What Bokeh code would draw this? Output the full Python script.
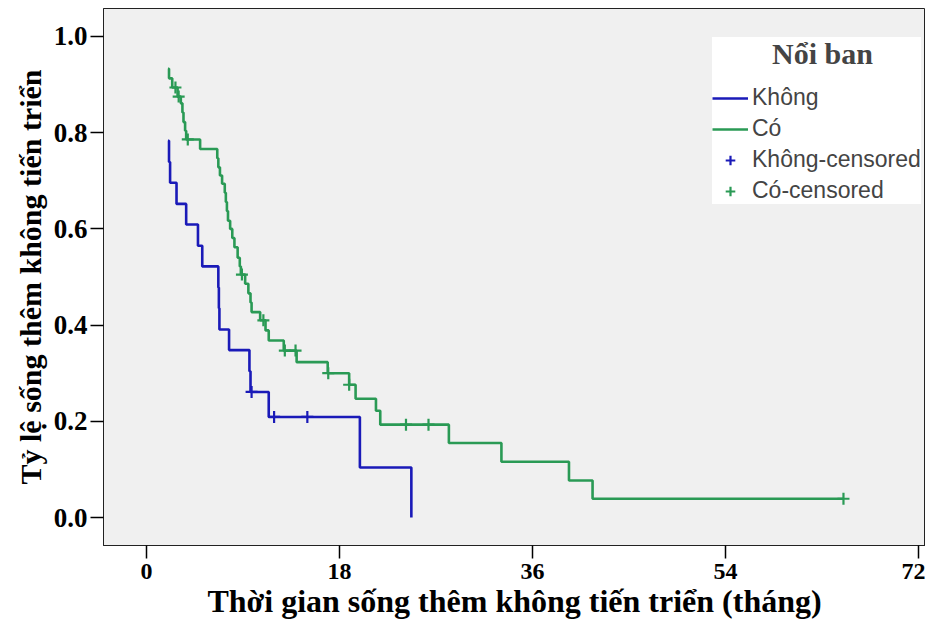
from bokeh.plotting import figure
from bokeh.models import Legend, LegendItem, FixedTicker, Range1d, NumeralTickFormatter
from bokeh.embed import file_html
from bokeh.resources import INLINE

# ---- Data ----
# Group "Không" (blue): Kaplan-Meier step points (time in months, survival)
khong_time = [2.0, 2.1, 2.2, 2.8, 3.7, 4.8, 5.2, 6.7, 6.75, 6.8, 7.7, 9.6, 9.7, 11.4, 19.9, 24.7]
khong_surv = [0.783, 0.739, 0.696, 0.652, 0.609, 0.565, 0.522, 0.478, 0.435, 0.391, 0.348,
              0.304, 0.261, 0.209, 0.104, 0.0]
khong_cens_time = [9.8, 11.9, 15.0]
khong_cens_surv = [0.261, 0.209, 0.209]

# Group "Có" (green)
co_time = [2.0, 2.1, 2.4, 2.9, 3.2, 3.35, 3.45, 3.6, 3.7, 5.0, 6.6, 6.7, 6.85, 7.05, 7.3, 7.4,
           7.5, 7.6, 7.8, 8.0, 8.2, 8.5, 8.7, 8.8, 9.2, 9.5, 9.7, 9.8, 10.6, 11.1, 11.4, 12.8,
           14.0, 16.9, 18.9, 19.5, 21.4, 21.8, 28.2, 33.1, 39.4, 41.6, 65.0]
co_surv = [0.933, 0.913, 0.894, 0.875, 0.861, 0.842, 0.822, 0.804, 0.786, 0.766, 0.747, 0.728,
           0.711, 0.694, 0.675, 0.656, 0.637, 0.617, 0.600, 0.581, 0.562, 0.540, 0.522, 0.505,
           0.486, 0.466, 0.447, 0.427, 0.410, 0.389, 0.368, 0.347, 0.323, 0.300, 0.276, 0.247,
           0.222, 0.193, 0.155, 0.116, 0.077, 0.039, 0.039]
co_cens_time = [2.7, 3.0, 3.85, 8.9, 10.9, 12.9, 13.9, 16.95, 18.9, 24.2, 26.3, 65.0]
co_cens_surv = [0.894, 0.875, 0.786, 0.505, 0.410, 0.347, 0.347, 0.300, 0.276, 0.193, 0.193, 0.039]

x_ticks = [0, 18, 36, 54, 72]
y_ticks = [0.0, 0.2, 0.4, 0.6, 0.8, 1.0]

legend_title = "Nổi ban"
labels = ["Không", "Có", "Không-censored", "Có-censored"]
x_title = "Thời gian sống thêm không tiến triển (tháng)"
y_title = "Tỷ lệ sống thêm không tiến triển"

BLUE = "#1a1ab8"
GREEN = "#2a9a55"
SERIF = "Liberation Serif"
SANS = "Liberation Sans"

p = figure(width=925, height=621, output_backend="svg", toolbar_location=None,
           x_range=Range1d(-4.01, 72.65), y_range=Range1d(-0.0582, 1.0582),
           min_border_left=103, min_border_right=0, min_border_top=8, min_border_bottom=76)

p.background_fill_color = "#f0f0f0"
p.border_fill_color = "white"
p.outline_line_color = "#222222"
p.outline_line_width = 1
p.xgrid.visible = False
p.ygrid.visible = False

r_khong = p.step(khong_time, khong_surv, mode="after", line_color=BLUE, line_width=2.6)
r_co = p.step(co_time, co_surv, mode="after", line_color=GREEN, line_width=2.6)
r_kc = p.scatter(khong_cens_time, khong_cens_surv, marker="cross", size=12,
                 line_color=BLUE, line_width=2.2)
r_cc = p.scatter(co_cens_time, co_cens_surv, marker="cross", size=12,
                 line_color=GREEN, line_width=2.2)

for ax in (p.xaxis[0], p.yaxis[0]):
    ax.major_label_text_font = SERIF
    ax.major_label_text_font_style = "bold"
    ax.major_label_text_color = "black"
    ax.axis_label_text_font = SERIF
    ax.axis_label_text_font_style = "bold"
    ax.axis_label_text_color = "black"
    ax.major_tick_out = 13
    ax.major_tick_in = 0
    ax.major_tick_line_color = "black"
    ax.major_tick_line_width = 1.5
    ax.minor_tick_line_color = None
    ax.axis_line_color = "#222222"

p.xaxis.major_label_text_font_size = "24px"
p.yaxis.major_label_text_font_size = "27px"
p.xaxis.axis_label_text_font_size = "32px"
p.yaxis.axis_label_text_font_size = "30px"
p.xaxis.ticker = FixedTicker(ticks=x_ticks)
p.yaxis.ticker = FixedTicker(ticks=y_ticks)
p.yaxis.formatter = NumeralTickFormatter(format="0.0")
p.xaxis.axis_label = x_title
p.yaxis.axis_label = y_title
p.xaxis.major_label_standoff = 5
p.yaxis.major_label_standoff = 3
p.xaxis.axis_label_standoff = 1
p.yaxis.axis_label_standoff = 4

legend = Legend(
    items=[LegendItem(label=labels[0], renderers=[r_khong]),
           LegendItem(label=labels[1], renderers=[r_co]),
           LegendItem(label=labels[2], renderers=[r_kc]),
           LegendItem(label=labels[3], renderers=[r_cc])],
    location=(609, 341),
    title="\u00a0" * 8 + legend_title,
    title_text_font=SERIF, title_text_font_style="bold", title_text_font_size="30px",
    title_standoff=13,
    label_text_font=SANS, label_text_font_size="23px",
    glyph_width=36, glyph_height=24, label_height=24, label_standoff=4,
    spacing=4, padding=14, margin=0,
    border_line_color=None, background_fill_color="white", background_fill_alpha=1.0,
)
p.add_layout(legend)

open("out.html", "w").write(file_html(p, INLINE))
